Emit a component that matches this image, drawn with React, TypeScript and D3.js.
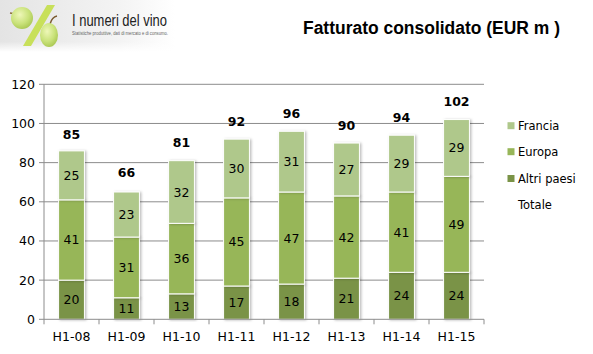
import React from "react";
import * as d3 from "d3";

const categories = ["H1-08", "H1-09", "H1-10", "H1-11", "H1-12", "H1-13", "H1-14", "H1-15"];
const altriPaesi = [20, 11, 13, 17, 18, 21, 24, 24];
const europa = [41, 31, 36, 45, 47, 42, 41, 49];
const francia = [25, 23, 32, 30, 31, 27, 29, 29];
const totale = [85, 66, 81, 92, 96, 90, 94, 102];
const yTicks = [0, 20, 40, 60, 80, 100, 120];

const seriesNames = ["Altri paesi", "Europa", "Francia"];
const colors: Record<string, string> = {
  "Altri paesi": "#7a9347",
  Europa: "#97b659",
  Francia: "#afc88b",
};

const W = 593;
const H = 354;
const left = 44;
const right = 484;
const top = 84.3;
const bottom = 319.3;
const FONT = "'DejaVu Sans', Verdana, sans-serif";

export default function App() {
  const x = d3.scaleBand<string>().domain(categories).range([left, right]).paddingInner(0.53).paddingOuter(0.265);
  const y = d3.scaleLinear().domain([0, 120]).range([bottom, top]);

  const rows = categories.map((c, i) => ({
    cat: c,
    "Altri paesi": altriPaesi[i],
    Europa: europa[i],
    Francia: francia[i],
  }));
  const stack = d3.stack<any>().keys(seriesNames)(rows);
  const step = (right - left) / categories.length;

  return (
    <svg width={W} height={H} style={{ position: "absolute", left: 0, top: 0, background: "#fff" }} fontFamily={FONT}>
      <defs>
        <linearGradient id="logobg" x1="0" x2="1" y1="0" y2="0">
          <stop offset="0" stopColor="#e4e4e4" />
          <stop offset="0.7" stopColor="#f4f4f4" />
          <stop offset="1" stopColor="#ffffff" />
        </linearGradient>
        <linearGradient id="logobgv" x1="0" x2="0" y1="0" y2="1">
          <stop offset="0" stopColor="#fff" stopOpacity="0" />
          <stop offset="0.8" stopColor="#fff" stopOpacity="0" />
          <stop offset="1" stopColor="#fff" stopOpacity="1" />
        </linearGradient>
        <radialGradient id="grape" cx="0.4" cy="0.35" r="0.7">
          <stop offset="0" stopColor="#eef7b8" />
          <stop offset="0.6" stopColor="#c9e27a" />
          <stop offset="1" stopColor="#a8c650" />
        </radialGradient>
        <filter id="shadow" x="-20%" y="-5%" width="150%" height="115%">
          <feDropShadow dx="1.5" dy="0.5" stdDeviation="1" floodColor="#000" floodOpacity="0.25" />
        </filter>
      </defs>

      {/* Logo */}
      <rect x={0} y={0} width={175} height={52} fill="url(#logobg)" />
      <rect x={0} y={0} width={175} height={52} fill="url(#logobgv)" />
      <path d="M16,14 L10,13" stroke="#8a6a3a" strokeWidth={1.5} />
      <circle cx={22} cy={18} r={11} fill="url(#grape)" />
      <polygon points="47,5 55,5 31,46 23,46" fill="#c8e05a" />
      <path d="M50,24 Q52,17 57,16" stroke="#7a5a30" strokeWidth={1.5} fill="none" />
      <ellipse cx={49} cy={35} rx={9} ry={12} fill="url(#grape)" />
      <text x={72} y={25.5} fontFamily="'Liberation Sans', Arial, sans-serif" fontSize={16} fill="#222" textLength={95} lengthAdjust="spacingAndGlyphs">
        I numeri del vino
      </text>
      <text x={72} y={34.5} fontFamily="'Liberation Sans', Arial, sans-serif" fontSize={4.5} fill="#666" textLength={96} lengthAdjust="spacingAndGlyphs">
        Statistiche produttive, dati di mercato e di consumo.
      </text>

      {/* Title */}
      <text x={303} y={34} fontFamily="'Liberation Sans', Arial, sans-serif" fontWeight="bold" fontSize={17.5} fill="#000" textLength={257} lengthAdjust="spacingAndGlyphs">
        Fatturato consolidato (EUR m )
      </text>

      {/* Gridlines */}
      {yTicks.map((t) => (
        <g key={t}>
          {t > 0 && <line x1={left} x2={right} y1={y(t)} y2={y(t)} stroke="#8c8c8c" strokeWidth={1} />}
          <line x1={left - 5} x2={left} y1={y(t)} y2={y(t)} stroke="#8c8c8c" />
          <text x={left - 9} y={y(t)} dy="0.36em" textAnchor="end" fontSize={12.5} fill="#000">
            {t}
          </text>
        </g>
      ))}

      {/* Bars */}
      {stack.map((s) => (
        <g key={s.key}>
          {s.map((d, i) => (
            <g key={i}>
              <rect
                x={x(categories[i])!}
                y={y(d[1])}
                width={x.bandwidth()}
                height={y(d[0]) - y(d[1])}
                fill={colors[s.key]}
                stroke="#fff"
                strokeWidth={1}
                filter="url(#shadow)"
              />
              <text
                x={x(categories[i])! + x.bandwidth() / 2}
                y={(y(d[0]) + y(d[1])) / 2}
                dy="0.36em"
                textAnchor="middle"
                fontSize={12.5}
                fill="#000"
              >
                {d[1] - d[0]}
              </text>
            </g>
          ))}
        </g>
      ))}

      {/* Totals */}
      {totale.map((t, i) => (
        <text
          key={i}
          x={x(categories[i])! + x.bandwidth() / 2}
          y={y(t) - 18}
          dy="0.36em"
          textAnchor="middle"
          fontSize={12.5}
          fontWeight="bold"
          fill="#000"
        >
          {t}
        </text>
      ))}

      {/* Axes */}
      <line x1={left} x2={left} y1={top} y2={bottom} stroke="#8c8c8c" />
      <line x1={left} x2={right} y1={bottom} y2={bottom} stroke="#8c8c8c" />
      {d3.range(categories.length + 1).map((k) => (
        <line key={k} x1={left + k * step} x2={left + k * step} y1={bottom} y2={bottom + 5} stroke="#8c8c8c" />
      ))}
      {categories.map((c) => (
        <text key={c} x={x(c)! + x.bandwidth() / 2} y={336} dy="0.36em" textAnchor="middle" fontSize={12.5} fill="#000">
          {c}
        </text>
      ))}

      {/* Legend */}
      {["Francia", "Europa", "Altri paesi"].map((n, i) => {
        const ly = [125.7, 151.7, 178.5][i];
        return (
          <g key={n}>
            <rect x={507.5} y={ly - 3.5} width={7} height={7} fill={colors[n]} />
            <text x={518} y={ly} dy="0.36em" fontSize={11.5} fill="#000">
              {n}
            </text>
          </g>
        );
      })}
      <text x={518} y={204.5} dy="0.36em" fontSize={11.5} fill="#000">
        Totale
      </text>
    </svg>
  );
}
